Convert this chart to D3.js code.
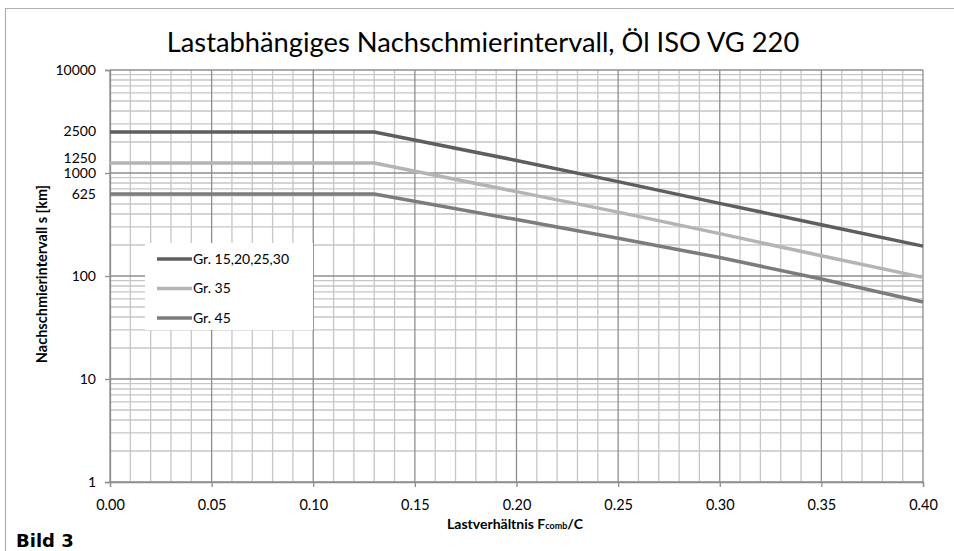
<!DOCTYPE html>
<html>
<head>
<meta charset="utf-8">
<script src="https://cdn.jsdelivr.net/npm/d3@7"></script>
<style>
  html, body { margin: 0; padding: 0; background: #fff; }
  svg { display: block; }
  text { font-family: Lato, "Open Sans", sans-serif; fill: #000; }
</style>
</head>
<body>
<svg id="chart" width="954" height="551"></svg>
<script>
// Load ratio F_comb/C at the corner points of each curve
const loadRatio = [0, 0.13, 0.20, 0.25, 0.30, 0.35, 0.40];

// Relubrication interval s [km] per size group
const grA = [2500, 2500, 1325, 825, 507, 315, 195];   // Gr. 15,20,25,30
const grB = [1250, 1250, 659, 417, 258, 157, 97];     // Gr. 35
const grC = [625, 625, 353, 233, 151, 93.5, 56];      // Gr. 45

const seriesNames = ["Gr. 15,20,25,30", "Gr. 35", "Gr. 45"];
const seriesValues = [grA, grB, grC];
const seriesColors = ["#5e5e5e", "#b4b4b4", "#7c7c7c"];

const xTickValues = [0, 0.05, 0.10, 0.15, 0.20, 0.25, 0.30, 0.35, 0.40];
const yTickValues = [1, 10, 100, 1000, 10000];
const yExtraLabels = [2500, 1250, 625];

const svg = d3.select("#chart");

// outer frame
svg.append("path")
  .attr("d", "M5.5,551 V8.5 H954")
  .attr("fill", "none").attr("stroke", "#b0b0b0").attr("stroke-width", 1.2);

const x = d3.scaleLinear().domain([0, 0.40]).range([110, 923]);
const y = d3.scaleLog().domain([1, 10000]).range([482, 70]);

const grid = svg.append("g");

// minor grid: every 0.01 on x, 2..9 per decade on y
const xMinor = d3.range(0, 41).map(i => i / 100).filter(v => Math.round(v * 100) % 5 !== 0);
const yMinor = [];
for (let d = 1; d < 10000; d *= 10) for (let k = 2; k <= 9; k++) yMinor.push(d * k);

grid.selectAll(".xm").data(xMinor).join("line")
  .attr("x1", d => x(d)).attr("x2", d => x(d))
  .attr("y1", y(10000)).attr("y2", y(1))
  .attr("stroke", "#c6c6c6").attr("stroke-width", 1.3);
grid.selectAll(".ym").data(yMinor).join("line")
  .attr("x1", x(0)).attr("x2", x(0.40))
  .attr("y1", d => y(d)).attr("y2", d => y(d))
  .attr("stroke", "#c6c6c6").attr("stroke-width", 1.3);

// major grid
grid.selectAll(".xM").data(xTickValues).join("line")
  .attr("x1", d => x(d)).attr("x2", d => x(d))
  .attr("y1", y(10000)).attr("y2", y(1))
  .attr("stroke", "#8e8e8e").attr("stroke-width", 1.3);
grid.selectAll(".yM").data(yTickValues).join("line")
  .attr("x1", x(0)).attr("x2", x(0.40))
  .attr("y1", d => y(d)).attr("y2", d => y(d))
  .attr("stroke", "#8e8e8e").attr("stroke-width", 1.3);

// axes
const xAxis = svg.append("g")
  .attr("transform", `translate(0,${y(1)})`)
  .call(d3.axisBottom(x).tickValues(xTickValues).tickFormat(d3.format(".2f")).tickSizeOuter(0).tickSize(5).tickPadding(13));
xAxis.select(".domain").attr("stroke", "#8e8e8e").attr("stroke-width", 1.3);
xAxis.selectAll(".tick line").attr("stroke", "#8e8e8e").attr("stroke-width", 1.3);
xAxis.selectAll(".tick text").style("font-family", "Lato, sans-serif").style("font-size", "14.5px").attr("fill", "#111");

const yAxis = svg.append("g")
  .attr("transform", `translate(${x(0)},0)`)
  .call(d3.axisLeft(y).tickValues(yTickValues).tickFormat(d3.format("d")).tickSizeOuter(0).tickSize(5).tickPadding(9));
yAxis.select(".domain").attr("stroke", "#8e8e8e").attr("stroke-width", 1.3);
yAxis.selectAll(".tick line").attr("stroke", "#8e8e8e").attr("stroke-width", 1.3);
yAxis.selectAll(".tick text").style("font-family", "Lato, sans-serif").style("font-size", "14px").attr("fill", "#111");

// additional interval labels on the value axis
svg.append("g").selectAll("text").data(yExtraLabels).join("text")
  .attr("x", x(0) - 14)
  .attr("y", d => y(d) + (d === 1250 ? -4 : 0))
  .attr("dy", "0.32em")
  .attr("text-anchor", "end")
  .style("font-size", "14px").attr("fill", "#111")
  .text(d => d);

// curves
const line = d3.line().x((d, i) => x(loadRatio[i])).y(d => y(d));
svg.append("g").selectAll("path").data(seriesValues).join("path")
  .attr("d", d => line(d))
  .attr("fill", "none")
  .attr("stroke", (d, i) => seriesColors[i])
  .attr("stroke-width", 3.5)
  .attr("stroke-linejoin", "round");

// legend
const legend = svg.append("g");
legend.append("rect").attr("x", 145).attr("y", 243).attr("width", 168).attr("height", 87).attr("fill", "#fff");
const rows = legend.selectAll("g.row").data(seriesNames).join("g")
  .attr("transform", (d, i) => `translate(157,${259 + i * 29.5})`);
rows.append("line").attr("x1", 0).attr("x2", 35).attr("y1", 0).attr("y2", 0)
  .attr("stroke", (d, i) => seriesColors[i]).attr("stroke-width", 3.5);
rows.append("text").attr("x", 36).attr("dy", "0.35em")
  .style("font-size", "14px").attr("fill", "#111").text(d => d);

// title
svg.append("text")
  .attr("x", 483).attr("y", 52)
  .attr("text-anchor", "middle")
  .style("font-size", "27.3px").attr("fill", "#111")
  .text("Lastabhängiges Nachschmierintervall, Öl ISO VG 220");

// axis titles
const xt = svg.append("text")
  .attr("x", 515).attr("y", 529)
  .attr("text-anchor", "middle")
  .style("font-size", "14px").style("font-weight", "bold");
xt.append("tspan").text("Lastverhältnis F");
xt.append("tspan").style("font-size", "9px").text("comb");
xt.append("tspan").text("/C");

svg.append("text")
  .attr("transform", "translate(47,274) rotate(-90)")
  .attr("text-anchor", "middle")
  .style("font-size", "14.5px").style("font-weight", "bold")
  .text("Nachschmierintervall s [km]");

// figure number
svg.append("text")
  .attr("x", 16).attr("y", 547)
  .style("font-family", "'DejaVu Sans', sans-serif")
  .style("font-size", "18px").style("font-weight", "bold").attr("fill", "#222")
  .text("Bild 3");
</script>
</body>
</html>
